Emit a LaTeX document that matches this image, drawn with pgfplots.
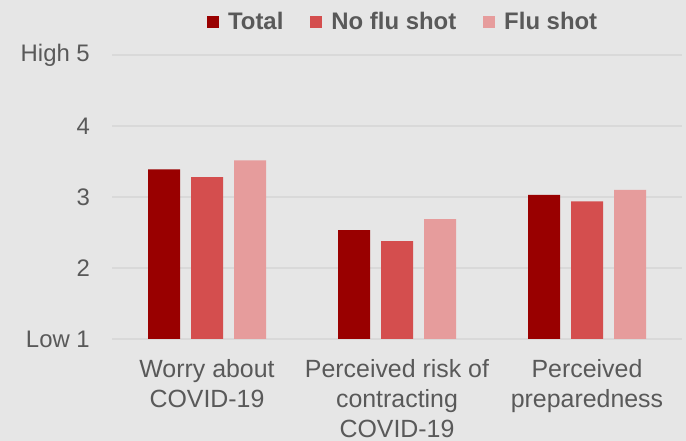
\documentclass[border=0pt]{standalone}
\usepackage{pgfplots}
\pgfplotsset{compat=1.18}
\usepackage{fontspec}
\setmainfont{Liberation Sans}
\definecolor{bg}{HTML}{E6E6E6}
\definecolor{gridc}{HTML}{D9D9D9}
\definecolor{txt}{HTML}{595959}
\definecolor{c1}{HTML}{990000}
\definecolor{c2}{HTML}{D44E4E}
\definecolor{c3}{HTML}{E69C9C}
\begin{document}
\begin{tikzpicture}[x=1bp,y=1bp]
\fill[bg] (0,0) rectangle (686,441);
\begin{axis}[
  at={(112bp,102bp)}, anchor=south west,
  scale only axis, width=570bp, height=284bp,
  ymin=1, ymax=5, xmin=-0.5, xmax=2.5,
  ytick={1,2,3,4,5}, yticklabels={Low 1,2,3,4,High 5},
  xtick={0,1,2},
  xticklabels={{Worry about\\COVID-19},{Perceived risk of\\contracting\\COVID-19},{Perceived\\preparedness}},
  xticklabel style={align=center, font=\fontsize{25}{30}\selectfont, text=txt, inner ysep=0pt, yshift=-20bp},
  yticklabel style={font=\fontsize{24}{28}\selectfont, text=txt, inner xsep=0pt, xshift=-22bp},
  axis line style={draw=none}, major tick length=0,
  ymajorgrids, grid style={draw=gridc, line width=2bp},
  ybar=11bp, bar width=32bp,
  legend columns=3,
  legend style={draw=none, fill=none, at={(rel axis cs:0.509,1.116)}, anchor=center,
    font=\bfseries\fontsize{24}{28}\selectfont, text=txt,
    nodes={inner xsep=0pt},
    /tikz/every odd column/.append style={column sep=9bp},
    /tikz/every even column/.append style={column sep=27bp}},
  legend image code/.code={\fill[#1] (0bp,-6bp) rectangle (12bp,6bp);},
]
\addplot[fill=c1, draw=none] coordinates {(0,3.39) (1,2.535) (2,3.03)};
\addplot[fill=c2, draw=none] coordinates {(0,3.28) (1,2.38) (2,2.94)};
\addplot[fill=c3, draw=none] coordinates {(0,3.515) (1,2.69) (2,3.10)};
\legend{Total,No flu shot,Flu shot}
\end{axis}
\end{tikzpicture}
\end{document}
